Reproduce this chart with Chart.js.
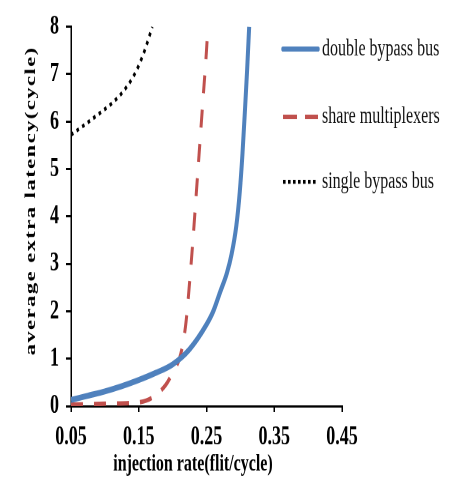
<!DOCTYPE html>
<html>
<head>
<meta charset="utf-8">
<script src="https://cdn.jsdelivr.net/npm/chart.js@4/dist/chart.umd.min.js"></script>
<style>
html, body { margin: 0; padding: 0; background: #fff; overflow: hidden; }
#wrap { width: 456px; height: 484px; }
/* the figure is drawn short and stretched tall, like the printed version */
#chart { display: block; transform: scaleY(1.4985); transform-origin: 0 0; }
</style>
</head>
<body>
<div id="wrap"><canvas id="chart" width="456" height="323"></canvas></div>
<script>
const SERIF = "'Liberation Serif', 'Times New Roman', serif";

const xTicks = [0.05, 0.15, 0.25, 0.35, 0.45];
const yTicks = [0, 1, 2, 3, 4, 5, 6, 7, 8];

const doubleX = [0.05, 0.075, 0.1, 0.125, 0.15, 0.175, 0.2, 0.225, 0.25, 0.26, 0.27, 0.28, 0.287, 0.294, 0.299, 0.303, 0.307, 0.31, 0.313];
const doubleY = [0.13, 0.22, 0.31, 0.42, 0.55, 0.7, 0.88, 1.2, 1.72, 2.0, 2.4, 2.8, 3.2, 3.8, 4.5, 5.3, 6.3, 7.1, 8.0];

const shareX = [0.05, 0.1, 0.15, 0.17, 0.19, 0.2, 0.21, 0.215, 0.22, 0.225, 0.23, 0.235, 0.24, 0.245, 0.25, 0.252];
const shareY = [0.03, 0.05, 0.08, 0.18, 0.45, 0.7, 1.0, 1.3, 1.8, 2.6, 3.5, 4.5, 5.5, 6.5, 7.5, 8.0];

const singleX = [0.05, 0.07, 0.09, 0.11, 0.125, 0.14, 0.15, 0.16, 0.17];
const singleY = [5.72, 5.93, 6.15, 6.38, 6.6, 6.9, 7.18, 7.55, 8.0];

const seriesNames = ['double bypass bus', 'share multiplexers', 'single bypass bus'];

function points(xs, ys) {
    return xs.map((x, i) => ({ x: x, y: ys[i] }));
}

// legend samples + axis titles drawn by hand
const extras = {
    id: 'extras',
    afterDraw(chart) {
        const c = chart.ctx;
        c.save();

        const rows = [
            { y: 32.7, color: '#4F81BD', width: 3.4, dash: [], cap: 'round' },
            { y: 78, color: '#C0504D', width: 3, dash: [14, 8], cap: 'butt' },
            { y: 121.3, color: '#000000', width: 2.6, dash: [2.6, 2.4], cap: 'butt' }
        ];
        rows.forEach((r, i) => {
            c.beginPath();
            c.strokeStyle = r.color;
            c.lineWidth = r.width;
            c.setLineDash(r.dash);
            c.lineCap = r.cap;
            c.moveTo(283, r.y);
            c.lineTo(318, r.y);
            c.stroke();
            c.setLineDash([]);
            c.fillStyle = '#111';
            c.font = '16px ' + SERIF;
            c.textAlign = 'left';
            c.textBaseline = 'middle';
            c.fillText(seriesNames[i], 322, r.y);
        });

        // x title
        c.fillStyle = '#000';
        c.font = 'bold 16px ' + SERIF;
        c.textAlign = 'center';
        c.textBaseline = 'middle';
        c.fillText('injection rate(flit/cycle)', 193, 310);

        // y title
        c.font = 'bold 15px ' + SERIF;
        c.translate(31, 134);
        c.rotate(-Math.PI / 2);
        c.letterSpacing = '1px';
        c.fillText('average extra latency(cycle)', 0, 0);
        c.restore();
    }
};

const ctx = document.getElementById('chart').getContext('2d');
new Chart(ctx, {
    type: 'line',
    data: {
        datasets: [
            {
                label: seriesNames[0],
                data: points(doubleX, doubleY),
                borderColor: '#4F81BD',
                borderWidth: 4,
                cubicInterpolationMode: 'monotone'
            },
            {
                label: seriesNames[1],
                data: points(shareX, shareY),
                borderColor: '#C0504D',
                borderWidth: 3,
                borderDash: [12, 11],
                cubicInterpolationMode: 'monotone'
            },
            {
                label: seriesNames[2],
                data: points(singleX, singleY),
                borderColor: '#000000',
                borderWidth: 2.6,
                borderDash: [2.6, 3.6],
                cubicInterpolationMode: 'monotone'
            }
        ]
    },
    options: {
        responsive: false,
        animation: false,
        devicePixelRatio: 2,
        layout: { padding: { top: 11, right: 114, left: 0, bottom: 0 } },
        elements: { point: { radius: 0 } },
        plugins: {
            legend: { display: false },
            tooltip: { enabled: false }
        },
        scales: {
            x: {
                type: 'linear',
                min: 0.05,
                max: 0.45,
                afterBuildTicks: (s) => { s.ticks = xTicks.map(v => ({ value: v })); },
                afterFit: (s) => { s.height = 52; },
                border: { color: '#000', width: 1.5 },
                grid: { drawOnChartArea: false, drawTicks: true, tickLength: 4, color: '#000', lineWidth: 1.5 },
                ticks: {
                    padding: 6,
                    color: '#000',
                    font: { family: SERIF, size: 18, weight: 'bold' },
                    callback: (v) => v.toFixed(2)
                }
            },
            y: {
                min: 0,
                max: 8,
                afterBuildTicks: (s) => { s.ticks = yTicks.map(v => ({ value: v })); },
                afterFit: (s) => { s.width = 71; },
                border: { color: '#000', width: 1.5 },
                grid: { drawOnChartArea: false, drawTicks: true, tickLength: 5, color: '#000', lineWidth: 1.5 },
                ticks: {
                    padding: 7,
                    color: '#000',
                    font: { family: SERIF, size: 18, weight: 'bold' }
                }
            }
        }
    },
    plugins: [extras]
});
</script>
</body>
</html>
